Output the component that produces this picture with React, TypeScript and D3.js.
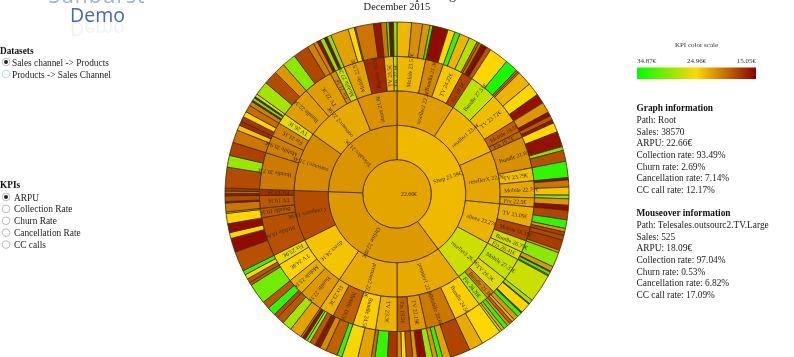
import React from "react";
import * as d3 from "d3";

const WIDTH = 794;
const HEIGHT = 357;

const rootArpu = 22.66;
const level1Names = ["Shop", "Online", "Telesales"];
const level1Arpu = [23.59, 22.08, 21.9];

const level2Names = ["reseller2", "reseller1", "resellerX", "alinea", "reseller3", "premier1", "premier2", "direct", "Comparex", "outsourc1", "outsourc2", "about"];
const level2Arpu = [22.3, 23.4, 22.7, 23.27, 26.9, 22.9, 22.9, 24.1, 18.6, 21.4, 22.9, 21.8];
const level2Parent = [0, 0, 0, 0, 0, 1, 1, 1, 1, 2, 2, 2];

const level3Names = [
  "Mobile", "Bundle", "TV", "Fix",
  "Bundle", "TV", "Mobile", "Fix",
  "Bundle", "TV", "Mobile", "Fix",
  "TV", "Mobile", "Bundle", "Fix",
  "Mobile", "TV", "Bundle", "Fix",
  "Bundle", "Mobile", "TV", "Fix",
  "TV", "Bundle", "Mobile", "Fix",
  "Bundle", "Mobile", "TV", "Fix",
  "Mobile", "Bundle", "TV", "Fix",
  "Bundle", "Mobile", "Fix", "TV",
  "Bundle", "TV", "Fix", "Mobile",
  "Mobile", "Bundle", "TV", "Fix",
];
const level3Arpu = [
  23.51, 21.3, 24.22, 18.1,
  27.51, 23.72, 19.5, 19.7,
  21.65, 23.79, 22.79, 22.5,
  23.09, 18.19, 26.75, 26.41,
  27.33, 26.3, 21.1, 28.26,
  24.5, 20.6, 22.19, 19.5,
  23.3, 24.5, 19.5, 23.3,
  22.1, 23.1, 24.8, 25.9,
  18.8, 19.1, 19.1, 17.2,
  20.71, 20.94, 21.1, 26.1,
  22.3, 22.3, 21.5, 27.2,
  22.51, 16.9, 23.5, 27.6,
];
const level3Parent = [
  0, 0, 0, 0, 1, 1, 1, 1, 2, 2, 2, 2, 3, 3, 3, 3, 4, 4, 4, 4,
  5, 5, 5, 5, 6, 6, 6, 6, 7, 7, 7, 7, 8, 8, 8, 8,
  9, 9, 9, 9, 10, 10, 10, 10, 11, 11, 11, 11,
];

const leafShare = [
  [4.9, 3.7, 2.5, 1.0], [5.2, 2.4], [1.8, 3.4, 2.9, 0.7], [1.0, 1.0, 1.0, 1.5],
  [6.6, 4.4, 0.7], [0.6, 5, 4.4, 3.3], [3.6, 1.4], [1.5, 1.1],
  [3.2, 5.2, 1.3, 3.7], [5.5], [0.8, 2.4, 2.7, 1.2], [2.2, 1.7],
  [3.2, 2.9, 1.2, 1.2], [1.6, 3.5, 0.9], [5], [1.7, 0.3, 1.1, 0.4],
  [9.7], [1.4, 0.3, 3.5, 0.4, 1.6], [1.6, 1, 1], [1, 1.5, 1, 0.8],
  [6.9, 4.8], [6.8, 2.6, 1.7, 1.6], [2.3, 2.9, 1.6], [2.3, 1.6, 1.6],
  [3.4, 4.3, 1.3], [4.5, 5.2], [1.7, 4, 2.2, 1.1], [0.8, 1.9, 1.1, 0.8, 1.1, 0.6],
  [4.2, 3.3, 2.5], [1.5, 2.9, 2.6], [7, 1], [1.4, 1.6, 1.5],
  [6.8, 4.7, 2, 3], [3.5, 0.5], [3, 0.5, 1.9], [0.8, 0.8, 1],
  [7, 4, 4.5], [4.3, 1.8, 1.4], [1.7, 1.9, 2.4], [1.5, 0.5, 1, 0.5, 1],
  [4.8, 4.7, 3.7], [4.7, 5.3, 2.3], [1.4, 1.1], [1.5, 1, 1.4],
  [6.1, 2.1, 0.4], [6.1, 2.5], [1.9, 0.9, 1.1], [0.3, 1.2],
];
const leafArpu = [
  [23.5, 21.7, 21.9, 33], [15.6, 25], [33, 23.4, 28, 20], [20, 15.6, 15.1, 19],
  [25, 34, 20], [20, 23.3, 25.2, 15.8], [22, 15.5], [19, 16],
  [25, 15.8, 30, 18.8], [33], [15.5, 20.5, 24, 30], [22, 15.5],
  [18.2, 33, 22, 18], [18.3, 17.8, 22], [29.5], [22, 15.1, 33, 21],
  [27], [29, 15.1, 25, 15.1, 33], [22, 23, 19.5], [22, 33, 23, 28],
  [25, 23], [18.2, 22.5, 33, 22], [29, 15.6, 22], [18.5, 25, 21.5],
  [17.5, 33, 20], [22.5, 25.3], [33, 19.5, 21.5, 16], [16, 19, 29, 32, 15.5, 21],
  [22.5, 28.5, 19], [18.5, 33, 19], [30.5, 19], [19, 25, 33],
  [18.8, 15.6, 25, 15.6], [25, 24], [20.5, 15.1, 18.5], [16, 20, 17.5],
  [18.5, 29, 18], [20.5, 24, 17], [17.5, 25, 20], [21, 15.1, 32, 15.1, 26],
  [28.5, 18.5, 22], [29.5, 18.3, 21], [21, 15.5], [30, 15.2, 30],
  [22.5, 25, 20], [20.5, 16], [20.5, 33, 15.1], [15.1, 30],
];

const scaleTicks = [34.87, 24.96, 15.05];
const scaleColors = ["#00ff00", "#ffd700", "#8b0000"];

const datasetOptions = ["Sales channel -> Products", "Products -> Sales Channel"];
const kpiOptions = ["ARPU", "Collection Rate", "Churn Rate", "Cancellation Rate", "CC calls"];
const graphInfo = ["Path: Root", "Sales: 38570", "ARPU: 22.66€", "Collection rate: 93.49%", "Churn rate: 2.69%", "Cancellation rate: 7.14%", "CC call rate: 12.17%"];
const mouseInfo = ["Path: Telesales.outsourc2.TV.Large", "Sales: 525", "ARPU: 18.09€", "Collection rate: 97.04%", "Churn rate: 0.53%", "Cancellation rate: 6.82%", "CC call rate: 17.09%"];

type Node = { name: string; arpu: number; share?: number; children?: Node[] };

const tree: Node = {
  name: "",
  arpu: rootArpu,
  children: level1Names.map((name, a) => ({
    name,
    arpu: level1Arpu[a],
    children: level2Names
      .map((n, b) => ({ n, b }))
      .filter(({ b }) => level2Parent[b] === a)
      .map(({ n, b }) => ({
        name: n,
        arpu: level2Arpu[b],
        children: level3Names
          .map((m, c) => ({ m, c }))
          .filter(({ c }) => level3Parent[c] === b)
          .map(({ m, c }) => ({
            name: m,
            arpu: level3Arpu[c],
            children: leafShare[c].map((share, d) => ({ name: "", arpu: leafArpu[c][d], share })),
          })),
      })),
  })),
};

const CX = 397;
const CY = 194;
const RADIUS = 172;
const SERIF = "'Liberation Serif', serif";

const color = d3.scaleLinear<string>().domain(scaleTicks).range(scaleColors).interpolate(d3.interpolateRgb);

const root = d3
  .partition<Node>()
  .size([2 * Math.PI, RADIUS])(d3.hierarchy(tree).sum((d) => d.share ?? 0));

const arc = d3
  .arc<d3.HierarchyRectangularNode<Node>>()
  .startAngle((d) => d.x0)
  .endAngle((d) => d.x1)
  .innerRadius((d) => d.y0)
  .outerRadius((d) => d.y1);

const legendX = d3.scaleLinear().domain([0, 2]).range([637, 756]);

function Radio({ x, y, on, focus }: { x: number; y: number; on?: boolean; focus?: boolean }) {
  return (
    <g>
      <circle cx={x} cy={y} r={3.8} fill="#fff" stroke={focus ? "#a9cdea" : "#aaaaaa"} strokeWidth={0.8} />
      {on && <circle cx={x} cy={y} r={2} fill="#222" />}
    </g>
  );
}

export default function App() {
  const nodes = root.descendants();
  return (
    <svg
      width={WIDTH}
      height={HEIGHT}
      viewBox={`0 0 ${WIDTH} ${HEIGHT}`}
      style={{ position: "fixed", left: 0, top: 0, background: "#fff", filter: "blur(0.45px)" }}
      fontFamily={SERIF}
    >
      <defs>
        <linearGradient id="kpi">
          {scaleColors.map((c, i) => (
            <stop key={c} offset={`${i * 50}%`} stopColor={c} />
          ))}
        </linearGradient>
      </defs>

      {/* logo */}
      <text x={97} y={2.5} textAnchor="middle" fontFamily="'Open Sans', sans-serif" fontSize={21} fill="#9ab4da" letterSpacing={1}>Sunburst</text>
      <text x={97.5} y={22} textAnchor="middle" fontFamily="'Open Sans', sans-serif" fontSize={19.5} fill="#456aa8">Demo</text>
      <text x={97.5} y={-22} transform="scale(1,-1)" textAnchor="middle" fontFamily="'Open Sans', sans-serif" fontSize={19.5} fill="#456aa8" opacity={0.08}>Demo</text>

      {/* title */}
      <text x={456} y={-1} textAnchor="end" fontSize={14} fill="#222">KPI Sunburst Reporting</text>
      <text x={397} y={10} textAnchor="middle" fontSize={10.5} fill="#222">December 2015</text>

      {/* left controls */}
      <text x={0} y={54} fontSize={9.3} fontWeight="bold" fill="#111">Datasets</text>
      {datasetOptions.map((t, i) => (
        <g key={t}>
          <Radio x={6} y={62 + i * 12} on={i === 0} focus={i === 1} />
          <text x={12} y={65.5 + i * 12} fontSize={9.35} fill="#222">{t}</text>
        </g>
      ))}
      <text x={0} y={188} fontSize={9.3} fontWeight="bold" fill="#111">KPIs</text>
      {kpiOptions.map((t, i) => (
        <g key={t}>
          <Radio x={6} y={197 + i * 11.9} on={i === 0} />
          <text x={14} y={200.5 + i * 11.9} fontSize={9.35} fill="#222">{t}</text>
        </g>
      ))}

      {/* sunburst */}
      <g transform={`translate(${CX},${CY})`}>
        {nodes.map((d, i) => (
          <path key={i} d={arc(d) ?? ""} fill={color(d.data.arpu)} stroke="#3d2c00" strokeWidth={0.8} />
        ))}
        {nodes
          .filter((d) => d.depth < 4)
          .map((d, i) => {
            const deg = d.depth === 0 ? 0 : (((d.x0 + d.x1) / 2) * 180) / Math.PI - 90;
            return (
              <text
                key={i}
                transform={`rotate(${deg}) translate(${d.y0 + 4},0)`}
                dy="0.35em"
                fontSize={5.8}
                fill="#3a2c08"
              >
                {d.depth === 0 ? `${d.data.arpu}€` : `${d.data.name} ${d.data.arpu}€`}
              </text>
            );
          })}
      </g>

      {/* color scale */}
      <text x={696.5} y={47} textAnchor="middle" fontSize={7} fill="#333">KPI color scale</text>
      {scaleTicks.map((t, i) => (
        <text key={t} x={legendX(i)} y={63} textAnchor={i === 0 ? "start" : i === 1 ? "middle" : "end"} fontSize={7} fill="#333">
          {t.toFixed(2)}€
        </text>
      ))}
      <rect x={637} y={67.5} width={119} height={11.5} fill="url(#kpi)" />

      {/* information panels */}
      <text x={636.5} y={111} fontSize={9.35} fontWeight="bold" fill="#111">Graph information</text>
      {graphInfo.map((t, i) => (
        <text key={t} x={636.5} y={123 + i * 11.68} fontSize={9.35} fill="#222">{t}</text>
      ))}
      <text x={636.5} y={216} fontSize={9.35} fontWeight="bold" fill="#111">Mouseover information</text>
      {mouseInfo.map((t, i) => (
        <text key={t} x={636.5} y={228 + i * 11.68} fontSize={9.35} fill="#222">{t}</text>
      ))}
    </svg>
  );
}
